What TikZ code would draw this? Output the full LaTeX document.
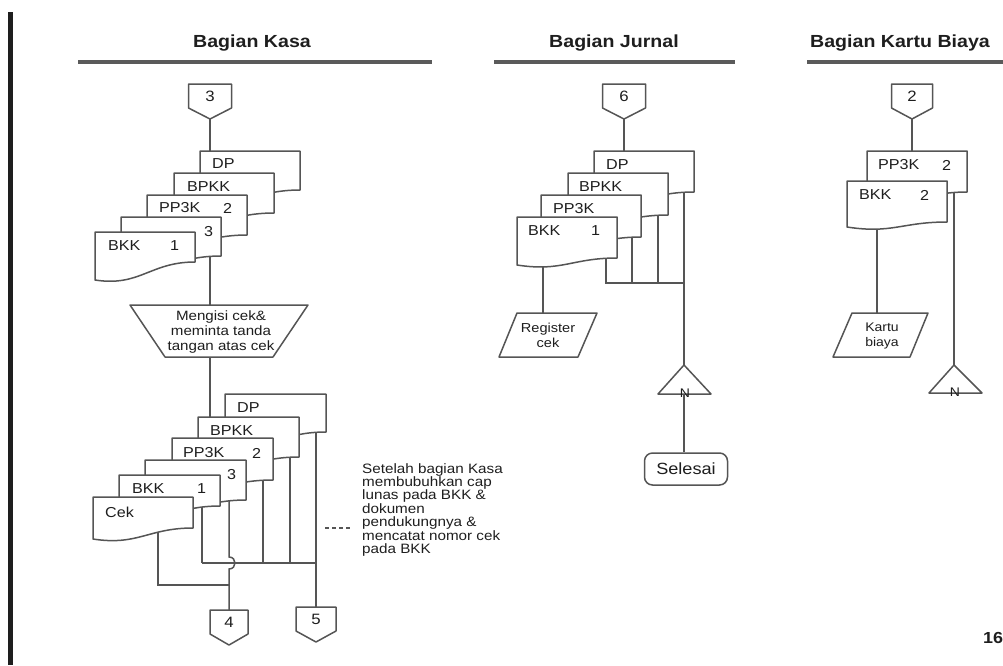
\documentclass[tikz,border=0pt]{standalone}
\usepackage{fontspec}
\setmainfont{Liberation Sans}[FakeStretch=1.12]
\definecolor{lc}{HTML}{555555}
\definecolor{tc}{HTML}{1E1E1E}
\definecolor{hc}{HTML}{5A5A5A}
\newcommand\docu[6]{% name, x, y, w, right height, left height
  \path[docln] (#2,#3) -- (#2+#4,#3) -- (#2+#4,#3+#5)
     .. controls (#2+0.55*#4,#3+#5) and (#2+0.45*#4,#3+#6+7) .. (#2,#3+#6) -- cycle;
  \coordinate (#1) at (#2,#3);
}
\newcommand\offpage[5]{% name, cx, top, w, label
  \path[docln] (#2-#4/2,#3) -- (#2+#4/2,#3) -- (#2+#4/2,#3+24) -- (#2,#3+35) -- (#2-#4/2,#3+24) -- cycle;
  \node[numf] (#1) at (#2,#3+12) {#5};
  \coordinate (#1t) at (#2,#3);
  \coordinate (#1b) at (#2,#3+35);
}
\begin{document}
\begin{tikzpicture}[x=1pt,y=-1pt,
  ln/.style={draw=lc, line width=1.5pt},
  docln/.style={draw=lc, line width=1.5pt, fill=white, line join=round},
  lbl/.style={anchor=west, inner sep=0pt, text=tc, font=\fontsize{14.4}{16}\selectfont},
  numf/.style={inner sep=0pt, text=tc, font=\fontsize{15}{17}\selectfont},
  head/.style={inner sep=0pt, text=tc, font=\bfseries\fontsize{17.5}{20}\selectfont},
  small/.style={inner sep=0pt, text=tc, align=center, font=\fontsize{13}{14.5}\selectfont},
  nf/.style={inner sep=0pt, text=tc, font=\fontsize{12.5}{14}\selectfont}
]
\useasboundingbox (0,0) rectangle (1003,665);
\fill[tc] (8,12) rectangle (13,665);

% headings
\node[head] (hk) at (252,43) {Bagian Kasa};
\node[head] (hj) at (614,43) {Bagian Jurnal};
\node[head] (hb) at (900,43) {Bagian Kartu Biaya};
\draw[hc, line width=3.2pt] (78,62) -- (432,62);
\draw[hc, line width=3.2pt] (494,62) -- (735,62);
\draw[hc, line width=3.2pt] (807,62) -- (1003,62);

% ===== coordinates for flow lines =====
% Kasa
\coordinate (k1in) at (210,151);
\coordinate (k1out) at (210,237);
\coordinate (traptop) at (210,305);
\coordinate (trapbot) at (210,357);
\coordinate (k2in) at (210,417);
\coordinate (dp2s) at (316,415);
\coordinate (bp2s) at (290,440);
\coordinate (pp2s) at (263,460);
\coordinate (t3s) at (229,480);
\coordinate (bk2s) at (202,490);
\coordinate (ceks) at (158,520);
\coordinate (busL) at (202,563);
\coordinate (busR) at (316,563);
\coordinate (cekc) at (158,585);
\coordinate (cekj) at (229,585);
% Jurnal
\coordinate (j1in) at (624,151);
\coordinate (djs) at (684,170);
\coordinate (bjs) at (658,195);
\coordinate (pjs) at (632,215);
\coordinate (kjs) at (606,240);
\coordinate (rjs) at (543,245);
\coordinate (jbusL) at (606,283);
\coordinate (jbusR) at (684,283);
\coordinate (regtop) at (543,313);
\coordinate (trja) at (684,365);
\coordinate (trjb) at (684,394);
% Kartu
\coordinate (b1in) at (912,151);
\coordinate (pbs) at (954,170);
\coordinate (kbs) at (877,200);
\coordinate (kartop) at (877,313);
\coordinate (trka) at (954,365);

% ===== off-page connectors =====
\offpage{cthree}{210}{84}{43}{3}
\offpage{cfour}{229}{610}{38}{4}
\offpage{cfive}{316}{607}{40}{5}
\offpage{csix}{624}{84}{43}{6}
\offpage{ctwo}{912}{84}{41}{2}

% ===== flow lines (drawn before documents) =====
\draw[ln] (cthreeb) -- (k1in);
\draw[ln] (k1out) -- (traptop);
\draw[ln] (trapbot) -- (k2in);
\draw[ln] (dp2s) -- (cfivet);
\draw[ln] (bp2s) -- (bp2s |- busR);
\draw[ln] (pp2s) -- (pp2s |- busR);
\draw[ln] (bk2s) -- (busL);
\draw[ln] (busL) -- (busR);
\draw[ln] (t3s) -- (229,557) .. controls (237,557) and (237,569) .. (229,569) -- (cfourt);
\draw[ln] (ceks) -- (cekc) -- (cekj);

\draw[ln] (csixb) -- (j1in);
\draw[ln] (djs) -- (trja);
\draw[ln] (bjs) -- (bjs |- jbusR);
\draw[ln] (pjs) -- (pjs |- jbusR);
\draw[ln] (kjs) -- (jbusL) -- (jbusR);
\draw[ln] (rjs) -- (regtop);

\draw[ln] (ctwob) -- (b1in);
\draw[ln] (pbs) -- (trka);
\draw[ln] (kbs) -- (kartop);

% ===== documents =====
% Kasa stack 1
\docu{dpa}{200}{151}{100}{39}{50}
\docu{bpa}{174}{173}{100}{40}{50}
\docu{ppa}{147}{195}{100}{40}{50}
\docu{tha}{121}{217}{100}{39}{50}
\docu{bka}{95}{232}{100}{30}{48}
\node[lbl] (ldpa) at (212,164) {DP};
\node[lbl] (lbpa) at (187,187) {BPKK};
\node[lbl] (lppa) at (159,208) {PP3K};
\node[lbl] (lppa2) at (223,208) {2};
\node[lbl] (ltha) at (204,232) {3};
\node[lbl] (lbka) at (108,246) {BKK};
\node[lbl] (lbka1) at (170,246) {1};

% trapezoid
\path[docln] (130,305) -- (308,305) -- (273,357) -- (165,357) -- cycle;
\node[small, font=\fontsize{13.5}{15}\selectfont] (trap) at (221,332) {Mengisi cek\&\\meminta tanda\\tangan atas cek};

% Kasa stack 2
\docu{dpb}{225}{394}{101}{38}{50}
\docu{bpb}{198}{417}{101}{40}{50}
\docu{ppb}{172}{438}{101}{42}{50}
\docu{thb}{145}{460}{101}{40}{50}
\docu{bkb}{119}{475}{101}{31}{42}
\docu{cek}{93}{497}{100}{31}{42}
\node[lbl] (ldpb) at (237,408) {DP};
\node[lbl] (lbpb) at (210,431) {BPKK};
\node[lbl] (lppb) at (183,453) {PP3K};
\node[lbl] (lppb2) at (252,453) {2};
\node[lbl] (lthb) at (227,475) {3};
\node[lbl] (lbkb) at (132,489) {BKK};
\node[lbl] (lbkb1) at (197,489) {1};
\node[lbl] (lcek) at (105,512) {Cek};

% note
\node[inner sep=0pt, anchor=north west, align=left, text=tc, font=\fontsize{13.6}{13.4}\selectfont] (note) at (362,463)
 {Setelah bagian Kasa\\membubuhkan cap\\lunas pada BKK \&\\dokumen\\pendukungnya \&\\mencatat nomor cek\\pada BKK};
\coordinate (dashL) at (325,528);
\draw[lc, line width=1.2pt, dash pattern=on 4pt off 3pt] (dashL) -- (350,528);

% Jurnal stack
\docu{dpj}{594}{151}{100}{41}{50}
\docu{bpj}{568}{173}{100}{42}{50}
\docu{ppj}{541}{195}{100}{42}{50}
\docu{bkj}{517}{217}{100}{41}{48}
\node[lbl] (ldpj) at (606,165) {DP};
\node[lbl] (lbpj) at (579,187) {BPKK};
\node[lbl] (lppj) at (553,209) {PP3K};
\node[lbl] (lbkj) at (528,231) {BKK};
\node[lbl] (lbkj1) at (591,231) {1};

% Register cek
\path[docln] (517,313) -- (597,313) -- (578,357) -- (499,357) -- cycle;
\node[small] (reg) at (548,335.5) {Register\\cek};

% triangle N (Jurnal)
\path[docln] (684,365) -- (711,394) -- (658,394) -- cycle;
\node[rounded corners=8pt, draw=lc, line width=1.5pt, fill=white, minimum width=83pt, minimum height=32pt, inner sep=0pt, text=tc, font=\fontsize{16.2}{18}\selectfont] (sel) at (686,469) {Selesai};
\draw[ln] (trjb) -- (trjb |- sel.north);
\node[nf] (nj) at (685,393) {N};

% Kartu stack
\docu{ppk}{867}{151}{100}{41}{50}
\docu{bkk}{847}{181}{100}{41}{46}
\node[lbl] (lppk) at (878,165) {PP3K};
\node[lbl] (lppk2) at (942,165) {2};
\node[lbl] (lbkk) at (859,195) {BKK};
\node[lbl] (lbkk2) at (920,195) {2};

% Kartu biaya
\path[docln] (852,313) -- (928,313) -- (910,357) -- (833,357) -- cycle;
\node[small, font=\fontsize{12.5}{15}\selectfont] (kar) at (882,335.5) {Kartu\\biaya};

% triangle N (Kartu)
\path[docln] (954,365) -- (982,393) -- (929,393) -- cycle;
\node[nf] (nk) at (955,392) {N};

% page number
\node[anchor=west, inner sep=0pt, text=tc, font=\bfseries\fontsize{16}{18}\selectfont] (pg) at (983,638) {16};
\end{tikzpicture}
\end{document}
